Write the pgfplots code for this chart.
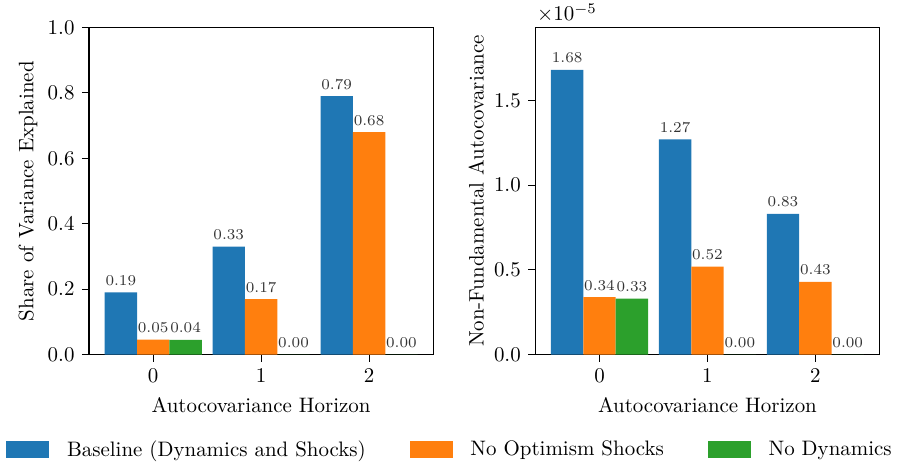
\documentclass[border=0pt]{standalone}
\usepackage{pgfplots}
\pgfplotsset{compat=1.18}
\definecolor{cblue}{HTML}{1F77B4}
\definecolor{corange}{HTML}{FF7F0E}
\definecolor{cgreen}{HTML}{2CA02C}
\pgfplotsset{
  myleg/.style={legend image code/.code={\fill[##1] (0pt,-4pt) rectangle (20.6pt,4.4pt); \path (29pt,0pt);}},
  common/.style={
    width=164.4pt, height=156.2pt, scale only axis,
    ybar=0pt, bar width=0.3,
    xmin=-0.595, xmax=2.595, ymin=0, enlargelimits=false,
    xtick={0,1,2}, xtick pos=bottom, ytick pos=left,
    tick align=outside, major tick length=3.4pt,
    tick style={black, line width=0.5pt},
    axis line style={line width=0.6pt},
    xlabel={Autocovariance Horizon},
    ylabel style={yshift=-2pt},
    yticklabel style={/pgf/number format/.cd, fixed, fixed zerofill, precision=1},
    nodes near coords, point meta=explicit symbolic,
    every node near coord/.append style={font=\fontsize{7.2}{9}\selectfont, text=black!80, inner sep=3pt},
  },
}
\begin{document}
\begin{tikzpicture}
\begin{axis}[common,
  ymax=1, ytick={0,0.2,0.4,0.6,0.8,1.0},
  ylabel={Share of Variance Explained},
  legend columns=3,
  legend style={draw=none, fill=none, at={(1.0456,-0.291)}, anchor=center,
    /tikz/every even column/.append style={column sep=21pt},
    nodes={inner xsep=0pt}},
]
\addplot[fill=cblue, draw=none, myleg] coordinates {(0,0.19)[0.19] (1,0.33)[0.33] (2,0.79)[0.79]};
\addlegendentry{Baseline (Dynamics and Shocks)}
\addplot[fill=corange, draw=none, myleg] coordinates {(0,0.046)[0.05] (1,0.17)[0.17] (2,0.68)[0.68]};
\addlegendentry{No Optimism Shocks}
\addplot[fill=cgreen, draw=none, myleg] coordinates {(0,0.045)[0.04] (1,0)[0.00] (2,0)[0.00]};
\addlegendentry{No Dynamics}
\end{axis}
\begin{axis}[common, at={(213.1pt,0pt)}, name=right,
  ymax=1.93, ytick={0,0.5,1.0,1.5},
  ylabel={Non-Fundamental Autocovariance},
]
\addplot[fill=cblue, draw=none] coordinates {(0,1.68)[1.68] (1,1.27)[1.27] (2,0.83)[0.83]};
\addplot[fill=corange, draw=none] coordinates {(0,0.34)[0.34] (1,0.52)[0.52] (2,0.43)[0.43]};
\addplot[fill=cgreen, draw=none] coordinates {(0,0.33)[0.33] (1,0)[0.00] (2,0)[0.00]};
\end{axis}
\node[anchor=base west, inner sep=0pt] (sc) at ([xshift=0.7pt,yshift=3.3pt]right.north west) {$\times10^{-5}$};
\path ([yshift=1.5pt]sc.north) -- ++(0,0);
\end{tikzpicture}
\end{document}
